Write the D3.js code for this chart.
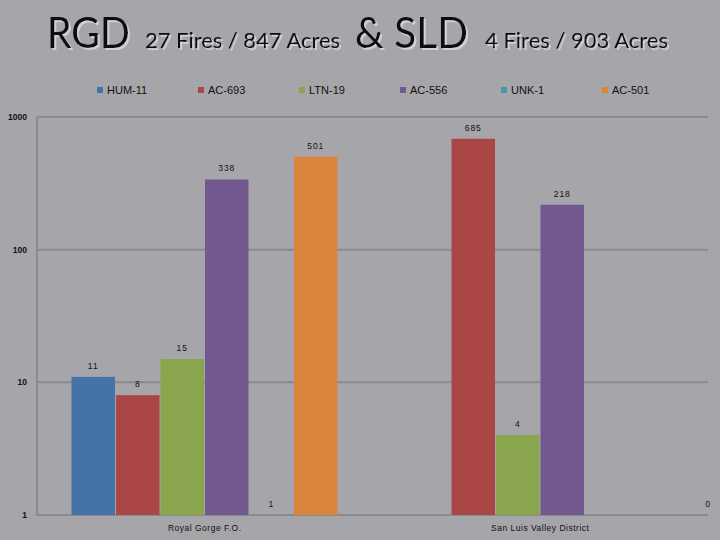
<!DOCTYPE html>
<html>
<head>
<meta charset="utf-8">
<script src="https://cdn.jsdelivr.net/npm/d3@7"></script>
<style>
  html, body { margin: 0; padding: 0; background: #a6a5a9; }
  svg { display: block; }
</style>
</head>
<body>
<script>
const categories = ["Royal Gorge F.O.", "San Luis Valley District"];
const series = ["HUM-11", "AC-693", "LTN-19", "AC-556", "UNK-1", "AC-501"];
const rgdValues = [11, 8, 15, 338, 1, 501];
const sldValues = [null, 685, 4, 218, null, 0];
const colors = ["#4572a7", "#aa4643", "#89a54e", "#71588f", "#4198af", "#db843d"];
const yTicks = [1, 10, 100, 1000];
const titleParts = [
  { text: "RGD", big: true },
  { text: "27 Fires / 847 Acres", big: false },
  { text: "& SLD", big: true },
  { text: "4 Fires / 903 Acres", big: false }
];

(function () {
const W = 720, H = 540;
const svg = d3.select("body").append("svg").attr("width", W).attr("height", H);
const defs = svg.append("defs");
const f = defs.append("filter").attr("id", "shadow").attr("x", "-10%").attr("y", "-10%").attr("width", "130%").attr("height", "140%");
f.append("feDropShadow").attr("dx", 2).attr("dy", 2).attr("stdDeviation", 0.6)
  .attr("flood-color", "#d6d5d9").attr("flood-opacity", 0.9);

svg.append("rect").attr("width", W).attr("height", H).attr("fill", "#a6a5a9");

// Title
const titleX = [47, 145, 355, 485];
const titleW = [83, 195, 113, 183];
titleParts.forEach((p, i) => {
  svg.append("text")
    .attr("x", titleX[i]).attr("y", 48)
    .attr("font-family", "Lato, 'Open Sans', sans-serif")
    .attr("font-size", p.big ? 42 : 21)
    .attr("fill", "#111111")
    .attr("filter", "url(#shadow)")
    .attr("textLength", titleW[i])
    .attr("lengthAdjust", "spacingAndGlyphs")
    .text(p.text);
});

// Legend
const legendX = d3.scalePoint().domain(series).range([97, 602]);
const lg = svg.append("g");
series.forEach((s, i) => {
  const g = lg.append("g").attr("transform", `translate(${legendX(s)},0)`);
  g.append("rect").attr("x", 0).attr("y", 87).attr("width", 6).attr("height", 6).attr("fill", colors[i]);
  g.append("text").attr("x", 10).attr("y", 94)
    .attr("font-family", "'Liberation Sans', Arial, sans-serif")
    .attr("font-size", 11).attr("fill", "#111").text(s);
});

// Scales
const pLeft = 37, pRight = 708, pTop = 117, pBottom = 515;
const y = d3.scaleLog().domain([1, 1000]).range([pBottom, pTop]);
const x0 = d3.scaleBand().domain(categories).range([pLeft, pRight]);
const bw = x0.bandwidth();
const x1 = d3.scaleBand().domain(series).range([34, bw - 34.5]);

// Gridlines
svg.append("g").selectAll("line").data(yTicks).join("line")
  .attr("x1", pLeft).attr("x2", pRight)
  .attr("y1", d => y(d)).attr("y2", d => y(d))
  .attr("stroke", "#8b8a8e").attr("stroke-width", 2);
// Left axis line
svg.append("line").attr("x1", pLeft).attr("x2", pLeft).attr("y1", pTop).attr("y2", pBottom + 1)
  .attr("stroke", "#8b8a8e").attr("stroke-width", 2);

// Y tick labels
svg.append("g").selectAll("text").data(yTicks).join("text")
  .attr("x", 27).attr("y", d => y(d) + 3)
  .attr("text-anchor", "end")
  .attr("font-family", "'Liberation Sans', Arial, sans-serif")
  .attr("font-weight", "bold")
  .attr("font-size", 8.5).attr("fill", "#111")
  .text(d => d3.format("d")(d));

// Bars
const table = categories.map((c, ci) => ({
  cat: c,
  vals: series.map((s, si) => ({ s, si, v: (ci === 0 ? rgdValues : sldValues)[si] }))
}));

const groups = svg.append("g").selectAll("g").data(table).join("g")
  .attr("transform", d => `translate(${x0(d.cat)},0)`);

groups.selectAll("rect").data(d => d.vals.filter(e => e.v != null && e.v >= 1)).join("rect")
  .attr("x", d => x1(d.s) + 0.5)
  .attr("width", x1.bandwidth() - 1)
  .attr("y", d => y(d.v))
  .attr("height", d => y(1) - y(d.v))
  .attr("fill", d => colors[d.si]);

// Value labels
groups.selectAll("text.val").data(d => d.vals.filter(e => e.v != null)).join("text")
  .attr("class", "val")
  .attr("x", d => d.v >= 1 ? x1(d.s) + x1.bandwidth() / 2 : (pRight - x0(categories[1])))
  .attr("y", d => (d.v >= 1 ? y(d.v) : y(1)) - 8)
  .attr("text-anchor", "middle")
  .attr("font-family", "'Liberation Sans', Arial, sans-serif")
  .attr("font-size", 8.5)
  .attr("letter-spacing", 1)
  .attr("fill", "#111")
  .text(d => d.v);

// Category labels
svg.append("g").selectAll("text").data(categories).join("text")
  .attr("x", d => x0(d) + bw / 2)
  .attr("y", 531)
  .attr("text-anchor", "middle")
  .attr("font-family", "'Liberation Sans', Arial, sans-serif")
  .attr("font-size", 8.5)
  .attr("letter-spacing", 0.5)
  .attr("fill", "#111")
  .text(d => d);
})();
</script>
</body>
</html>
